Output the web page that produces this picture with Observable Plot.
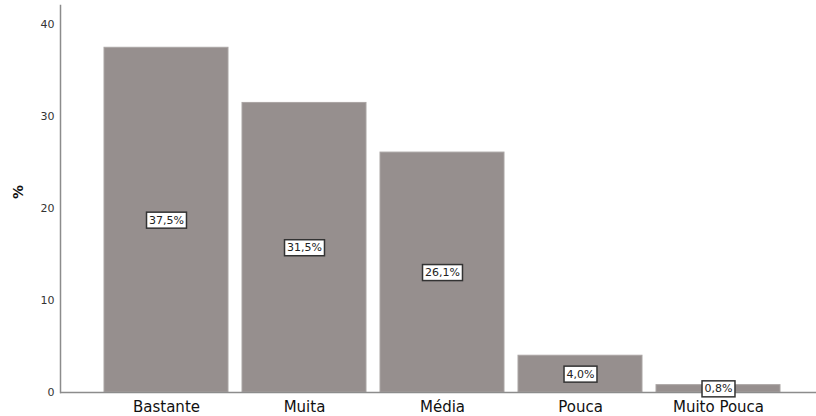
<!DOCTYPE html>
<html>
<head>
<meta charset="utf-8">
<script src="https://cdn.jsdelivr.net/npm/d3@7"></script>
<script src="https://cdn.jsdelivr.net/npm/@observablehq/plot@0.6"></script>
<style>
  body { margin: 0; background: #fff; }
  #chart svg { display: block; }
</style>
</head>
<body>
<div id="chart"></div>
<script>
const categories = ["Bastante", "Muita", "Média", "Pouca", "Muito Pouca"];
const values = [37.5, 31.5, 26.1, 4.0, 0.8];
const valueLabels = ["37,5%", "31,5%", "26,1%", "4,0%", "0,8%"];
const yTicks = [0, 10, 20, 30, 40];

const data = categories.map((c, i) => ({cat: c, v: values[i], lab: valueLabels[i]}));

const plot = Plot.plot({
  width: 816,
  height: 416,
  marginLeft: 60,
  marginRight: 0,
  marginTop: 5,
  marginBottom: 24,
  style: {fontFamily: "DejaVu Sans", background: "#fff"},
  x: {domain: categories, range: [102, 783], paddingInner: 0.1, paddingOuter: 0, label: null},
  y: {domain: [0, 42.1], label: null},
  marks: [
    Plot.barY(data, {x: "cat", y: "v", fill: "#968f8e", stroke: "#aaa5a4", strokeWidth: 1}),
    Plot.ruleY([0], {stroke: "#8c8c8c", strokeWidth: 1.5}),
    Plot.frame({anchor: "left", stroke: "#8c8c8c", strokeWidth: 1.5}),
    Plot.axisY({ticks: yTicks, tickSize: 0, tickPadding: 6, fontSize: 11, fill: "#333", label: null}),
    Plot.axisX({tickSize: 0, tickPadding: 9, fontSize: 15, fill: "#111", label: null}),
    Plot.text(["%"], {frameAnchor: "left", dx: -42, rotate: -90, fontSize: 14, fontWeight: "bold", fill: "#111"}),
    Plot.text(data, {x: "cat", y: d => d.v / 2, text: "lab", fontSize: 11, fill: "#222", className: "vlab"})
  ]
});
document.getElementById("chart").appendChild(plot);

// draw boxes behind value labels
d3.select(plot).selectAll("g.vlab text").each(function() {
  const bb = this.getBBox();
  const tr = this.getAttribute("transform");
  const r = d3.select(this.parentNode).insert("rect", () => this)
    .attr("x", bb.x - 2.5).attr("y", bb.y - 1.5)
    .attr("width", bb.width + 5).attr("height", bb.height + 3)
    .attr("fill", "#fff").attr("stroke", "#333").attr("stroke-width", 1.5);
  if (tr) r.attr("transform", tr);
});
</script>
</body>
</html>
